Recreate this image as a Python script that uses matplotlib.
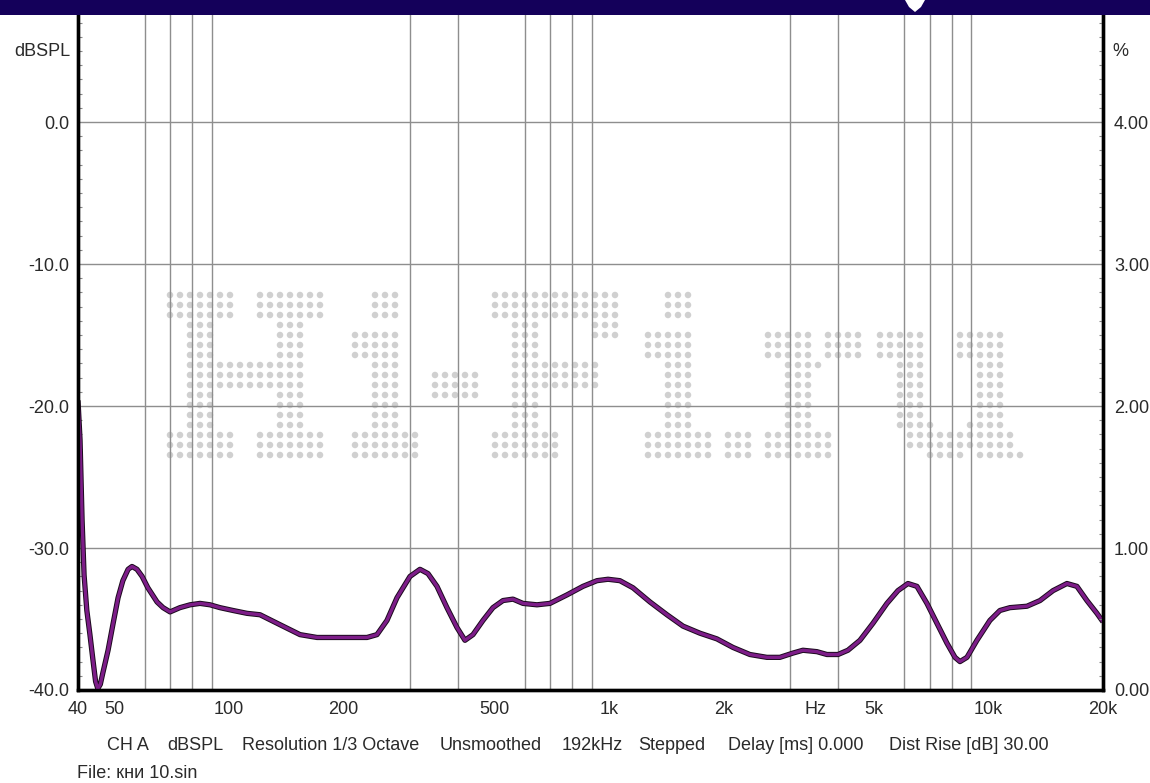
import numpy as np
import matplotlib
matplotlib.use('Agg')
import matplotlib.pyplot as plt
from matplotlib.ticker import FixedLocator, FixedFormatter, MultipleLocator, LogLocator, NullFormatter, FormatStrFormatter
from matplotlib.patches import Rectangle, Polygon

plt.rcParams['font.family'] = ['Liberation Sans', 'DejaVu Sans']

# ---------------- data ----------------
freq_hz = [40, 40.5, 41.0, 41.5, 42.2, 43.0, 43.8, 44.5, 45.1, 45.8,
           46.5, 48.0, 49.5, 51.0, 52.5, 54.2, 55.5, 57.2, 59.0, 61.1,
           64.6, 67.0, 69.9, 74.2, 78.9, 83.8, 89.1, 94.6, 102.4, 111.4,
           120.6, 136.1, 153.7, 170.4, 199.4, 230.7, 245.1, 260.4, 276.7, 299.4,
           318.1, 333.9, 352.6, 374.6, 398.1, 417.8, 438.6, 466.0, 495.1, 526.1,
           559.0, 593.9, 646.5, 699.5, 775.7, 854.5, 930.2, 994.6, 1069, 1157,
           1283, 1422, 1567, 1737, 1925, 2121, 2351, 2606, 2820, 3052,
           3242, 3530, 3751, 4010, 4260, 4582, 4958, 5397, 5769, 6130,
           6473, 6878, 7307, 7764, 8152, 8403, 8767, 9313, 10075, 10705,
           11375, 12611, 13650, 14773, 16072, 17075, 18143, 19279, 20000]
level_db = [-19.6, -22.4, -28.0, -31.9, -34.4, -36.1, -37.9, -39.4, -39.9, -39.6,
            -38.8, -37.2, -35.3, -33.5, -32.3, -31.5, -31.3, -31.5, -32.0, -32.8,
            -33.8, -34.2, -34.5, -34.2, -34.0, -33.9, -34.0, -34.2, -34.4, -34.6,
            -34.7, -35.4, -36.1, -36.3, -36.3, -36.3, -36.1, -35.1, -33.5, -32.0,
            -31.5, -31.8, -32.7, -34.2, -35.6, -36.5, -36.1, -35.1, -34.2, -33.7,
            -33.6, -33.9, -34.0, -33.9, -33.3, -32.7, -32.3, -32.2, -32.3, -32.8,
            -33.8, -34.7, -35.5, -36.0, -36.4, -37.0, -37.5, -37.7, -37.7, -37.4,
            -37.2, -37.3, -37.5, -37.5, -37.2, -36.5, -35.3, -33.9, -33.0, -32.5,
            -32.7, -33.9, -35.3, -36.7, -37.7, -38.0, -37.7, -36.5, -35.1, -34.4,
            -34.2, -34.1, -33.7, -33.0, -32.5, -32.7, -33.7, -34.6, -35.2]

x_tick_pos = [40, 50, 100, 200, 500, 1000, 2000, 3500, 5000, 10000, 20000]
x_tick_lbl = ['40', '50', '100', '200', '500', '1k', '2k', 'Hz', '5k', '10k', '20k']
y_ticks_db = [-40, -30, -20, -10, 0]
y_ticks_pct = [0, 1, 2, 3, 4]
info_items = ['CH A', 'dBSPL', 'Resolution 1/3 Octave', 'Unsmoothed', '192kHz',
              'Stepped', 'Delay [ms] 0.000', 'Dist Rise [dB] 30.00']
info_x_px = [107, 167, 242, 440, 562, 638, 728, 889]
file_label = 'File: кни 10.sin'

# watermark dot-matrix glyphs (pattern, repeat rows)
glyphs = [
    (170, [("#######..#######", 3), ("..###......###..", 4), ("..############..", 3),
           ("..###......###..", 4), ("#######..#######", 3)]),
    (355, [("..###..", 3), (".......", 1), ("#####..", 3), ("..###..", 7), ("#######", 3)]),
    (435, [(".....", 8), ("#####", 3), (".....", 6)]),
    (495, [("#############", 3), ("..###.....###", 2), ("..###........", 2),
           ("..#########..", 3), ("..###........", 4), ("#######......", 3)]),
    (648, [("..###..", 3), (".......", 1), ("#####..", 3), ("..###..", 7), ("#######", 3)]),
    (728, [("...", 14), ("###", 3)]),
    (768, [("..........", 4), ("#####.####", 3), ("..####....", 1), ("..###.....", 6),
           ("#######...", 3)]),
    (880, [("...............", 4), ("#####...#####..", 3), ("..###.....###..", 6),
           ("..####...####..", 1), ("...###########.", 2), (".....####.#####", 1)]),
]

# ---------------- figure ----------------
W, H = 1150, 783
fig = plt.figure(figsize=(W / 100, H / 100), dpi=100)
fig.patch.set_facecolor('white')

def fx(px):
    return px / W

def fy(py):
    return 1 - py / H

L, R, T, B = 78, 1103, 15, 690
ax = fig.add_axes([fx(L), fy(B), fx(R) - fx(L), fy(T) - fy(B)])
ax.set_xscale('log')
ax.set_xlim(40, 20000)
ymin, ytop = -40, 7.54
ax.set_ylim(ymin, ytop)

txt_color = '#2a2a2a'
grid_color = '#8e8e8e'
fs = 13

# gridlines
ax.xaxis.set_major_locator(FixedLocator(x_tick_pos))
ax.xaxis.set_major_formatter(FixedFormatter(x_tick_lbl))
ax.xaxis.set_minor_locator(LogLocator(base=10, subs=np.arange(1, 10)))
ax.xaxis.set_minor_formatter(NullFormatter())
ax.grid(which='minor', axis='x', color=grid_color, lw=1.0)
ax.grid(which='major', axis='x', visible=False)
ax.tick_params(axis='x', which='both', length=0, pad=8, labelsize=fs, labelcolor=txt_color)

ax.yaxis.set_major_locator(FixedLocator(y_ticks_db))
ax.yaxis.set_major_formatter(FormatStrFormatter('%.1f'))
ax.yaxis.set_minor_locator(MultipleLocator(1))
ax.grid(which='major', axis='y', color=grid_color, lw=1.0)
ax.tick_params(axis='y', which='major', length=0, pad=6, labelsize=fs, labelcolor=txt_color)
ax.tick_params(axis='y', which='minor', direction='in', length=3, width=0.8, color='#888888')

for side in ['left', 'right', 'bottom']:
    ax.spines[side].set_linewidth(2.4)
    ax.spines[side].set_color('black')
ax.spines['top'].set_visible(False)

# watermark
wx, wy = [], []
for x0, rows in glyphs:
    r = 0
    for pat, n in rows:
        for _ in range(n):
            for c, ch in enumerate(pat):
                if ch == '#':
                    wx.append(fx(x0 + 10 * c))
                    wy.append(fy(295 + 10 * r))
            r += 1
ax.scatter(wx, wy, s=22, color='#d0d0d0', edgecolors='none',
           transform=fig.transFigure, clip_on=False, zorder=1)

# curve
ax.plot(freq_hz, level_db, color='#1a0a1c', lw=3.8, solid_joinstyle='round',
        solid_capstyle='butt', zorder=3)
ax.plot(freq_hz, level_db, color='#7d1d88', lw=2.4, solid_joinstyle='round',
        solid_capstyle='butt', zorder=4)

# right axis
ax2 = ax.twinx()
ax2.set_ylim(0, (ytop - ymin) / 10.0)
ax2.yaxis.set_major_locator(FixedLocator(y_ticks_pct))
ax2.yaxis.set_major_formatter(FormatStrFormatter('%.2f'))
ax2.yaxis.set_minor_locator(MultipleLocator(0.1))
ax2.tick_params(axis='y', which='major', length=0, pad=8, labelsize=fs, labelcolor=txt_color)
ax2.tick_params(axis='y', which='minor', direction='in', length=3, width=0.8, color='#888888')
ax2.spines['right'].set_linewidth(2.4)
ax2.spines['left'].set_linewidth(2.4)
ax2.spines['bottom'].set_linewidth(2.4)
ax2.spines['top'].set_visible(False)

# axis unit labels
fig.text(fx(70), fy(52), 'dBSPL', ha='right', va='center', fontsize=fs, color=txt_color)
fig.text(fx(1112), fy(52), '%', ha='left', va='center', fontsize=fs, color=txt_color)

# info lines
for s, xp in zip(info_items, info_x_px):
    fig.text(fx(xp), fy(745), s, ha='left', va='center', fontsize=fs, color=txt_color)
fig.text(fx(77), fy(773), file_label, ha='left', va='center', fontsize=fs, color=txt_color)

# top banner
fig.patches.append(Rectangle((0, fy(T)), 1, 1 - fy(T), transform=fig.transFigure,
                             facecolor='#14005a', edgecolor='none', zorder=5))
fig.patches.append(Polygon([(fx(905), fy(0)), (fx(925), fy(0)), (fx(921), fy(7)),
                            (fx(915), fy(12)), (fx(909), fy(7))], closed=True,
                           transform=fig.transFigure, facecolor='white',
                           edgecolor='none', zorder=6))

fig.savefig('out.png', dpi=100)
